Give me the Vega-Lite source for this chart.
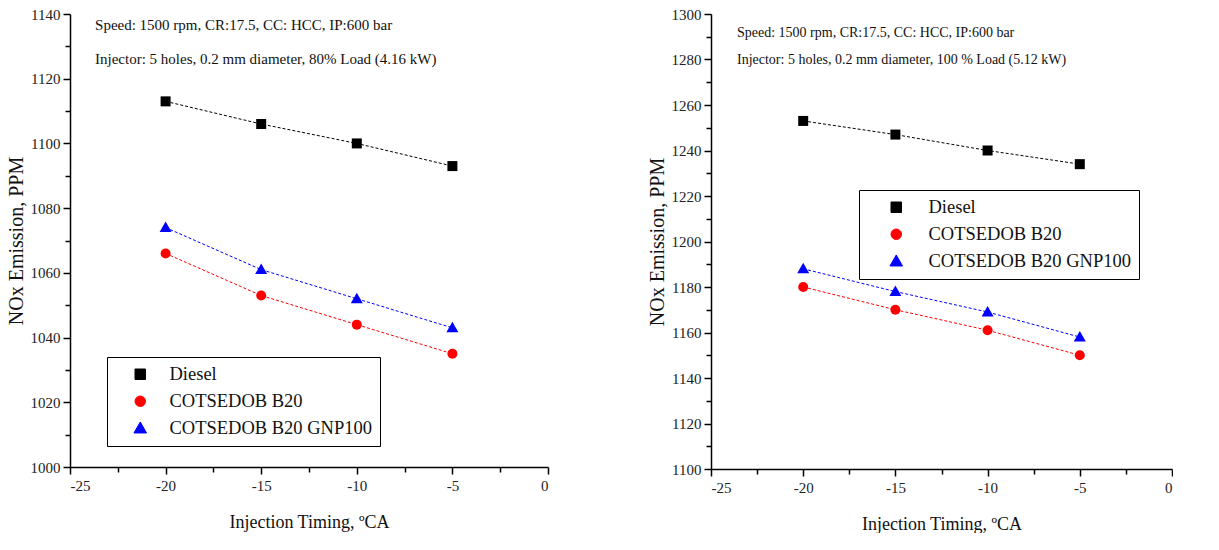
{
  "$schema": "https://vega.github.io/schema/vega-lite/v6.json",
  "padding": {"left": 6, "top": 7, "right": 0, "bottom": 0},
  "background": "white",
  "spacing": 98,
  "resolve": {"scale": {"color": "independent", "shape": "independent"}, "legend": {"color": "independent", "shape": "independent"}},
  "config": {
    "view": {"stroke": null},
    "font": "Liberation Serif",
    "axis": {
      "grid": false,
      "domainColor": "#000",
      "domainWidth": 1.5,
      "tickColor": "#000",
      "tickWidth": 1.5,
      "labelFont": "Liberation Serif",
      "labelFontSize": 15,
      "labelColor": "#222",
      "titleFont": "Liberation Serif",
      "titleFontSize": 18,
      "titleFontWeight": "normal",
      "titleColor": "#111"
    },
    "axisY": {"titleFontSize": 20},
    "legend": {
      "labelFont": "Liberation Serif",
      "labelFontSize": 18.5,
      "labelColor": "#111",
      "strokeColor": "#000",
      "padding": 8,
      "rowPadding": 8,
      "symbolSize": 110,
      "symbolStrokeWidth": 1,
      "labelOffset": 20,
      "labelLimit": 400
    }
  },
  "datasets": {
    "left": [
      {"x": -20, "nox": 1113, "series": "Diesel"},
      {"x": -15, "nox": 1106, "series": "Diesel"},
      {"x": -10, "nox": 1100, "series": "Diesel"},
      {"x": -5, "nox": 1093, "series": "Diesel"},
      {"x": -20, "nox": 1066, "series": "COTSEDOB B20"},
      {"x": -15, "nox": 1053, "series": "COTSEDOB B20"},
      {"x": -10, "nox": 1044, "series": "COTSEDOB B20"},
      {"x": -5, "nox": 1035, "series": "COTSEDOB B20"},
      {"x": -20, "nox": 1074, "series": "COTSEDOB B20 GNP100"},
      {"x": -15, "nox": 1061, "series": "COTSEDOB B20 GNP100"},
      {"x": -10, "nox": 1052, "series": "COTSEDOB B20 GNP100"},
      {"x": -5, "nox": 1043, "series": "COTSEDOB B20 GNP100"}
    ],
    "right": [
      {"x": -20, "nox": 1253, "series": "Diesel"},
      {"x": -15, "nox": 1247, "series": "Diesel"},
      {"x": -10, "nox": 1240, "series": "Diesel"},
      {"x": -5, "nox": 1234, "series": "Diesel"},
      {"x": -20, "nox": 1180, "series": "COTSEDOB B20"},
      {"x": -15, "nox": 1170, "series": "COTSEDOB B20"},
      {"x": -10, "nox": 1161, "series": "COTSEDOB B20"},
      {"x": -5, "nox": 1150, "series": "COTSEDOB B20"},
      {"x": -20, "nox": 1188, "series": "COTSEDOB B20 GNP100"},
      {"x": -15, "nox": 1178, "series": "COTSEDOB B20 GNP100"},
      {"x": -10, "nox": 1169, "series": "COTSEDOB B20 GNP100"},
      {"x": -5, "nox": 1158, "series": "COTSEDOB B20 GNP100"}
    ]
  },
  "hconcat": [
    {
      "width": 478,
      "height": 453,
      "data": {"name": "left"},
      "encoding": {
        "x": {
          "field": "x", "type": "quantitative",
          "scale": {"domain": [-25, 0], "nice": false, "zero": false},
          "axis": {
            "title": "Injection Timing, ºCA",
            "values": [-25, -22.5, -20, -17.5, -15, -12.5, -10, -7.5, -5, -2.5, 0],
            "labelExpr": "datum.value % 5 === 0 ? '' + datum.value : ''",
            "tickSize": {"condition": {"test": "datum.value % 5 === 0", "value": 7}, "value": 5},
            "labelPadding": 4,
            "titlePadding": 20
          }
        },
        "y": {
          "field": "nox", "type": "quantitative",
          "scale": {"domain": [1000, 1140], "nice": false, "zero": false},
          "axis": {
            "title": "NOx Emission, PPM",
            "values": [1000, 1010, 1020, 1030, 1040, 1050, 1060, 1070, 1080, 1090, 1100, 1110, 1120, 1130, 1140],
            "labelExpr": "datum.value % 20 === 0 ? '' + datum.value : ''",
            "tickSize": {"condition": {"test": "datum.value % 20 === 0", "value": 7}, "value": 5},
            "labelPadding": 3,
            "titlePadding": 4
          }
        }
      },
      "layer": [
        {
          "mark": {"type": "line", "strokeWidth": 1, "strokeDash": [3, 2]},
          "encoding": {
            "color": {
              "field": "series", "type": "nominal",
              "scale": {"domain": ["Diesel", "COTSEDOB B20", "COTSEDOB B20 GNP100"], "range": ["#000000", "#ff0000", "#0000ff"]},
              "legend": {"title": null, "orient": "none", "legendX": 37, "legendY": 343, "symbolOffset": 16}
            }
          }
        },
        {
          "mark": {"type": "point", "filled": true, "size": 100, "opacity": 1},
          "encoding": {
            "color": {"field": "series", "type": "nominal", "legend": {"title": null, "orient": "none", "legendX": 37, "legendY": 343, "symbolOffset": 16}},
            "shape": {
              "field": "series", "type": "nominal",
              "scale": {"domain": ["Diesel", "COTSEDOB B20", "COTSEDOB B20 GNP100"], "range": ["square", "circle", "M0,-1.2L1.2,0.9H-1.2Z"]},
              "legend": {"title": null, "orient": "none", "legendX": 37, "legendY": 343, "symbolOffset": 16}
            }
          }
        },
        {
          "transform": [{"filter": "datum.x === -20 && datum.series === 'Diesel'"}],
          "mark": {"type": "text", "align": "left", "baseline": "middle", "fontSize": 15, "font": "Liberation Serif", "fill": "#111", "text": "Speed: 1500 rpm, CR:17.5, CC: HCC, IP:600 bar"},
          "encoding": {"x": {"datum": -23.69, "type": "quantitative"}, "y": {"datum": 1136.6, "type": "quantitative"}}
        },
        {
          "transform": [{"filter": "datum.x === -20 && datum.series === 'Diesel'"}],
          "mark": {"type": "text", "align": "left", "baseline": "middle", "fontSize": 15, "font": "Liberation Serif", "fill": "#111", "text": "Injector: 5 holes, 0.2 mm diameter, 80% Load (4.16 kW)"},
          "encoding": {"x": {"datum": -23.69, "type": "quantitative"}, "y": {"datum": 1126.1, "type": "quantitative"}}
        }
      ]
    },
    {
      "width": 461,
      "height": 455,
      "data": {"name": "right"},
      "encoding": {
        "x": {
          "field": "x", "type": "quantitative",
          "scale": {"domain": [-25, 0], "nice": false, "zero": false},
          "axis": {
            "title": "Injection Timing, ºCA",
            "values": [-25, -22.5, -20, -17.5, -15, -12.5, -10, -7.5, -5, -2.5, 0],
            "labelExpr": "datum.value % 5 === 0 ? '' + datum.value : ''",
            "tickSize": {"condition": {"test": "datum.value % 5 === 0", "value": 7}, "value": 5},
            "labelPadding": 4,
            "titlePadding": 20
          }
        },
        "y": {
          "field": "nox", "type": "quantitative",
          "scale": {"domain": [1100, 1300], "nice": false, "zero": false},
          "axis": {
            "title": "NOx Emission, PPM",
            "values": [1100, 1110, 1120, 1130, 1140, 1150, 1160, 1170, 1180, 1190, 1200, 1210, 1220, 1230, 1240, 1250, 1260, 1270, 1280, 1290, 1300],
            "labelExpr": "datum.value % 20 === 0 ? '' + datum.value : ''",
            "tickSize": {"condition": {"test": "datum.value % 20 === 0", "value": 7}, "value": 5},
            "labelPadding": 3,
            "titlePadding": 4
          }
        }
      },
      "layer": [
        {
          "mark": {"type": "line", "strokeWidth": 1, "strokeDash": [3, 2]},
          "encoding": {
            "color": {
              "field": "series", "type": "nominal",
              "scale": {"domain": ["Diesel", "COTSEDOB B20", "COTSEDOB B20 GNP100"], "range": ["#000000", "#ff0000", "#0000ff"]},
              "legend": {"title": null, "orient": "none", "legendX": 148, "legendY": 176, "symbolOffset": 20, "labelOffset": 23}
            }
          }
        },
        {
          "mark": {"type": "point", "filled": true, "size": 100, "opacity": 1},
          "encoding": {
            "color": {"field": "series", "type": "nominal", "legend": {"title": null, "orient": "none", "legendX": 148, "legendY": 176, "symbolOffset": 20, "labelOffset": 23}},
            "shape": {
              "field": "series", "type": "nominal",
              "scale": {"domain": ["Diesel", "COTSEDOB B20", "COTSEDOB B20 GNP100"], "range": ["square", "circle", "M0,-1.2L1.2,0.9H-1.2Z"]},
              "legend": {"title": null, "orient": "none", "legendX": 148, "legendY": 176, "symbolOffset": 20, "labelOffset": 23}
            }
          }
        },
        {
          "transform": [{"filter": "datum.x === -20 && datum.series === 'Diesel'"}],
          "mark": {"type": "text", "align": "left", "baseline": "middle", "fontSize": 14, "font": "Liberation Serif", "fill": "#111", "text": "Speed: 1500 rpm, CR:17.5, CC: HCC, IP:600 bar"},
          "encoding": {"x": {"datum": -23.59, "type": "quantitative"}, "y": {"datum": 1291.6, "type": "quantitative"}}
        },
        {
          "transform": [{"filter": "datum.x === -20 && datum.series === 'Diesel'"}],
          "mark": {"type": "text", "align": "left", "baseline": "middle", "fontSize": 14, "font": "Liberation Serif", "fill": "#111", "text": "Injector: 5 holes, 0.2 mm diameter, 100 % Load (5.12 kW)"},
          "encoding": {"x": {"datum": -23.59, "type": "quantitative"}, "y": {"datum": 1279.8, "type": "quantitative"}}
        }
      ]
    }
  ]
}
